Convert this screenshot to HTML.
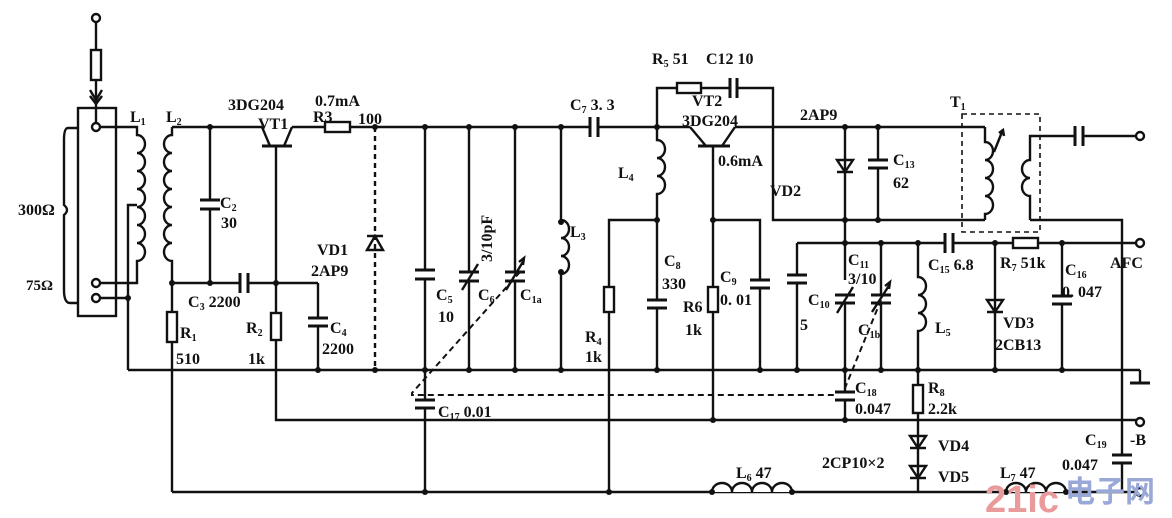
<!DOCTYPE html>
<html><head><meta charset="utf-8"><style>
html,body{margin:0;padding:0;background:#fff;}
svg{display:block;}
text{font-family:"Liberation Serif",serif;font-weight:bold;font-size:16px;fill:#111;}
.s{font-size:10px;}
</style></head><body>
<svg width="1172" height="518" viewBox="0 0 1172 518" xmlns="http://www.w3.org/2000/svg">
<g stroke="#111" stroke-width="2.4" fill="none">
<!-- antenna input -->
<circle cx="96" cy="18" r="4"/>
<line x1="96" y1="22" x2="96" y2="50"/>
<rect x="91" y="50" width="10" height="30"/>
<line x1="96" y1="80" x2="96" y2="123"/>
<path d="M90 90 L96 100 L102 90 M90 96 L96 104 L102 96"/>
<rect x="78" y="108" width="38" height="208"/>
<circle cx="96" cy="127" r="4"/>
<circle cx="96" cy="283" r="4"/>
<circle cx="96" cy="298" r="4"/>
<path d="M78 128 H68 Q64 128 64 140 V205 Q70 210 64 215 V290 Q64 303 70 303 H78"/>
<!-- L1 -->
<path d="M100 127 H137 V135 a8 9 0 0 1 0 18 a8 9 0 0 1 0 18 a8 9 0 0 1 0 18 a8 9 0 0 1 0 18 a8 9 0 0 1 0 18 a8 9 0 0 1 0 18 a8 9 0 0 1 0 18 V283 H100"/>
<path d="M137 205 H128 V370"/>
<line x1="100" y1="298" x2="128" y2="298"/>
<!-- L2 -->
<path d="M172 127 V135 a8 9 0 0 0 0 18 a8 9 0 0 0 0 18 a8 9 0 0 0 0 18 a8 9 0 0 0 0 18 a8 9 0 0 0 0 18 a8 9 0 0 0 0 18 a8 9 0 0 0 0 18 V283"/>
<!-- top rail -->
<line x1="172" y1="127" x2="262" y2="127"/>
<line x1="292" y1="127" x2="325" y2="127"/>
<rect x="325" y="122" width="25" height="10"/>
<line x1="350" y1="127" x2="590" y2="127"/>
<!-- VT1 -->
<line x1="262" y1="127" x2="270" y2="146"/>
<line x1="292" y1="127" x2="284" y2="146"/>
<line x1="262" y1="146" x2="292" y2="146" stroke-width="3"/>
<line x1="276" y1="146" x2="276" y2="313"/>
<!-- C2 -->
<line x1="210" y1="127" x2="210" y2="200"/>
<line x1="200" y1="200" x2="220" y2="200" stroke-width="3"/>
<line x1="200" y1="209" x2="220" y2="209" stroke-width="3"/>
<line x1="210" y1="209" x2="210" y2="283"/>
<!-- y283 line, C3 -->
<line x1="172" y1="283" x2="240" y2="283"/>
<line x1="240" y1="273" x2="240" y2="293" stroke-width="3"/>
<line x1="248" y1="273" x2="248" y2="293" stroke-width="3"/>
<line x1="248" y1="283" x2="318" y2="283"/>
<line x1="318" y1="283" x2="318" y2="318"/>
<line x1="308" y1="318" x2="328" y2="318" stroke-width="3"/>
<line x1="308" y1="326" x2="328" y2="326" stroke-width="3"/>
<line x1="318" y1="326" x2="318" y2="370"/>
<!-- R1 -->
<line x1="172" y1="283" x2="172" y2="312"/>
<rect x="167" y="312" width="10" height="30"/>
<line x1="172" y1="342" x2="172" y2="492"/>
<!-- R2 -->
<rect x="271" y="313" width="10" height="27"/>
<path d="M276 340 V420 H1136"/>
<!-- ground rail -->
<line x1="128" y1="370" x2="1140" y2="370"/>
<line x1="1140" y1="370" x2="1140" y2="383"/>
<line x1="1130" y1="383" x2="1150" y2="383" stroke-width="3"/>
<!-- bottom rail -->
<line x1="172" y1="492" x2="1136" y2="492"/>
<!-- VD1 -->
<line x1="375" y1="127" x2="375" y2="370" stroke-dasharray="5,4"/>
<path d="M367 250 L375 236 L383 250 Z"/>
<line x1="367" y1="236" x2="383" y2="236" stroke-width="2.5"/>
<!-- C5 -->
<line x1="425" y1="127" x2="425" y2="270"/>
<line x1="415" y1="270" x2="435" y2="270" stroke-width="3"/>
<line x1="415" y1="279" x2="435" y2="279" stroke-width="3"/>
<line x1="425" y1="279" x2="425" y2="400"/>
<line x1="415" y1="400" x2="435" y2="400" stroke-width="3"/>
<line x1="415" y1="408" x2="435" y2="408" stroke-width="3"/>
<line x1="425" y1="408" x2="425" y2="492"/>
<!-- C6 -->
<line x1="469" y1="127" x2="469" y2="272"/>
<line x1="459" y1="272" x2="479" y2="272" stroke-width="3"/>
<line x1="459" y1="281" x2="479" y2="281" stroke-width="3"/>
<line x1="469" y1="281" x2="469" y2="370"/>
<line x1="462" y1="290" x2="478" y2="264"/>
<!-- C1a -->
<line x1="515" y1="127" x2="515" y2="272"/>
<line x1="505" y1="272" x2="525" y2="272" stroke-width="3"/>
<line x1="505" y1="281" x2="525" y2="281" stroke-width="3"/>
<line x1="515" y1="281" x2="515" y2="370"/>
<path d="M506 290 L524 260 M519 262 L524 258 L523 265"/>
<!-- ganged dashed -->
<path d="M520 272 L412 393 L412 395 H835" stroke-dasharray="6,4" stroke-width="2"/>
<!-- L3 -->
<path d="M561 127 V220 a8 9 0 0 1 0 18 a8 9 0 0 1 0 18 a8 9 0 0 1 0 18 V370"/>
<!-- C7 -->
<line x1="590" y1="117" x2="590" y2="137" stroke-width="3"/>
<line x1="598" y1="117" x2="598" y2="137" stroke-width="3"/>
<line x1="598" y1="127" x2="690" y2="127"/>
<!-- L4 & R5/C12 loop -->
<path d="M657 127 V88 H677"/>
<rect x="677" y="83" width="24" height="10"/>
<line x1="701" y1="88" x2="730" y2="88"/>
<line x1="730" y1="78" x2="730" y2="98" stroke-width="3"/>
<line x1="737" y1="78" x2="737" y2="98" stroke-width="3"/>
<path d="M737 88 H773 V220 H985"/>
<path d="M657 127 V140 a8 9 0 0 1 0 18 a8 9 0 0 1 0 18 a8 9 0 0 1 0 18 V300"/>
<line x1="647" y1="300" x2="667" y2="300" stroke-width="3"/>
<line x1="647" y1="308" x2="667" y2="308" stroke-width="3"/>
<line x1="657" y1="308" x2="657" y2="370"/>
<path d="M657 220 H609 V287"/>
<rect x="604" y="287" width="10" height="25"/>
<line x1="609" y1="312" x2="609" y2="492"/>
<!-- VT2 -->
<line x1="690" y1="127" x2="706" y2="146"/>
<line x1="735" y1="127" x2="722" y2="146"/>
<line x1="698" y1="146" x2="730" y2="146" stroke-width="3"/>
<line x1="735" y1="127" x2="985" y2="127"/>
<path d="M713 146 V220 H760 V280"/>
<line x1="750" y1="280" x2="770" y2="280" stroke-width="3"/>
<line x1="750" y1="288" x2="770" y2="288" stroke-width="3"/>
<line x1="760" y1="288" x2="760" y2="370"/>
<line x1="713" y1="220" x2="713" y2="287"/>
<rect x="708" y="287" width="10" height="25"/>
<line x1="713" y1="312" x2="713" y2="420"/>
<!-- VD2 C13 -->
<line x1="845" y1="127" x2="845" y2="280"/>
<path d="M837 160 L853 160 L845 172 Z"/>
<line x1="837" y1="172" x2="853" y2="172" stroke-width="2.5"/>
<line x1="878" y1="127" x2="878" y2="160"/>
<line x1="868" y1="160" x2="888" y2="160" stroke-width="3"/>
<line x1="868" y1="168" x2="888" y2="168" stroke-width="3"/>
<line x1="878" y1="168" x2="878" y2="220"/>
<!-- T1 -->
<rect x="962" y="114" width="78" height="118" stroke-dasharray="5,4" stroke-width="1.6"/>
<path d="M985 127 V142 a8 9 0 0 1 0 18 a8 9 0 0 1 0 18 a8 9 0 0 1 0 18 a8 9 0 0 1 0 18 V220"/>
<path d="M1030 220 V196 a8 9 0 0 1 0 -18 a8 9 0 0 1 0 -18 V136 H1075"/>
<path d="M994 152 L1002 132 M999 133 L1003 130 L1004 136"/>
<path d="M1030 220 H1122 V455"/>
<line x1="1075" y1="126" x2="1075" y2="146" stroke-width="3"/>
<line x1="1083" y1="126" x2="1083" y2="146" stroke-width="3"/>
<line x1="1083" y1="136" x2="1136" y2="136"/>
<circle cx="1140" cy="136" r="4"/>
<line x1="1112" y1="455" x2="1132" y2="455" stroke-width="3"/>
<line x1="1112" y1="463" x2="1132" y2="463" stroke-width="3"/>
<line x1="1122" y1="463" x2="1122" y2="492"/>
<!-- y243 rail -->
<path d="M797 243 H945"/>
<line x1="945" y1="233" x2="945" y2="253" stroke-width="3"/>
<line x1="953" y1="233" x2="953" y2="253" stroke-width="3"/>
<line x1="953" y1="243" x2="1013" y2="243"/>
<rect x="1013" y="238" width="25" height="10"/>
<line x1="1038" y1="243" x2="1136" y2="243"/>
<circle cx="1140" cy="243" r="4"/>
<circle cx="1140" cy="422" r="4"/>
<circle cx="1140" cy="492" r="4"/>
<!-- C10 -->
<path d="M797 243 V275"/>
<line x1="787" y1="275" x2="807" y2="275" stroke-width="3"/>
<line x1="787" y1="283" x2="807" y2="283" stroke-width="3"/>
<line x1="797" y1="283" x2="797" y2="370"/>
<!-- C11 -->
<line x1="835" y1="295" x2="855" y2="295" stroke-width="3"/>
<line x1="835" y1="303" x2="855" y2="303" stroke-width="3"/>
<line x1="845" y1="303" x2="845" y2="392"/>
<line x1="837" y1="313" x2="853" y2="287"/>
<line x1="835" y1="392" x2="855" y2="392" stroke-width="3"/>
<line x1="835" y1="400" x2="855" y2="400" stroke-width="3"/>
<line x1="845" y1="400" x2="845" y2="420"/>
<!-- C1b -->
<line x1="881" y1="243" x2="881" y2="295"/>
<line x1="871" y1="295" x2="891" y2="295" stroke-width="3"/>
<line x1="871" y1="303" x2="891" y2="303" stroke-width="3"/>
<line x1="881" y1="303" x2="881" y2="370"/>
<path d="M872 312 L890 284 M885 286 L890 282 L889 289"/>
<line x1="881" y1="300" x2="845" y2="388" stroke-dasharray="6,4" stroke-width="2"/>
<!-- L5 -->
<path d="M918 243 V277 a8 9 0 0 1 0 18 a8 9 0 0 1 0 18 a8 9 0 0 1 0 18 V385"/>
<rect x="913" y="385" width="10" height="28"/>
<line x1="918" y1="413" x2="918" y2="492"/>
<path d="M910 436 L926 436 L918 448 Z"/>
<line x1="910" y1="448" x2="926" y2="448" stroke-width="2.5"/>
<path d="M910 466 L926 466 L918 478 Z"/>
<line x1="910" y1="478" x2="926" y2="478" stroke-width="2.5"/>
<!-- VD3 -->
<line x1="995" y1="243" x2="995" y2="370"/>
<path d="M987 300 L1003 300 L995 312 Z"/>
<line x1="987" y1="312" x2="1003" y2="312" stroke-width="2.5"/>
<!-- C16 -->
<line x1="1062" y1="243" x2="1062" y2="296"/>
<line x1="1052" y1="296" x2="1072" y2="296" stroke-width="3"/>
<line x1="1052" y1="304" x2="1072" y2="304" stroke-width="3"/>
<line x1="1062" y1="304" x2="1062" y2="370"/>
<!-- L6 L7 -->
<path d="M712 492 a10 9 0 0 1 20 0 a10 9 0 0 1 20 0 a10 9 0 0 1 20 0 a10 9 0 0 1 20 0" fill="#fff"/>
<path d="M1006 492 a10 9 0 0 1 20 0 a10 9 0 0 1 20 0 a10 9 0 0 1 20 0" fill="#fff"/>
</g>
<g fill="#111">
<circle cx="128" cy="298" r="3"/><circle cx="172" cy="283" r="3"/><circle cx="210" cy="127" r="3"/><circle cx="210" cy="283" r="3"/><circle cx="276" cy="283" r="3"/>
<circle cx="318" cy="370" r="3"/><circle cx="375" cy="127" r="3"/><circle cx="375" cy="370" r="3"/><circle cx="425" cy="127" r="3"/><circle cx="425" cy="370" r="3"/>
<circle cx="469" cy="127" r="3"/><circle cx="469" cy="370" r="3"/><circle cx="515" cy="127" r="3"/><circle cx="515" cy="370" r="3"/><circle cx="561" cy="127" r="3"/><circle cx="561" cy="370" r="3"/>
<circle cx="561" cy="222" r="3"/><circle cx="561" cy="272" r="3"/><circle cx="425" cy="492" r="3"/>
<circle cx="657" cy="127" r="3"/><circle cx="657" cy="220" r="3"/><circle cx="657" cy="370" r="3"/><circle cx="713" cy="220" r="3"/><circle cx="713" cy="420" r="3"/><circle cx="760" cy="370" r="3"/>
<circle cx="845" cy="127" r="3"/><circle cx="878" cy="127" r="3"/><circle cx="845" cy="220" r="3"/><circle cx="878" cy="220" r="3"/>
<circle cx="845" cy="243" r="3"/><circle cx="881" cy="243" r="3"/><circle cx="918" cy="243" r="3"/><circle cx="995" cy="243" r="3"/><circle cx="1062" cy="243" r="3"/>
<circle cx="797" cy="370" r="3"/><circle cx="845" cy="370" r="3"/><circle cx="881" cy="370" r="3"/><circle cx="918" cy="370" r="3"/><circle cx="995" cy="370" r="3"/><circle cx="1062" cy="370" r="3"/>
<circle cx="845" cy="420" r="3"/><circle cx="609" cy="492" r="3"/><circle cx="712" cy="492" r="3"/><circle cx="792" cy="492" r="3"/><circle cx="1006" cy="492" r="3"/><circle cx="1066" cy="492" r="3"/>
</g>
<text x="18" y="215">300Ω</text>
<text x="26" y="290" style="font-size:15px">75Ω</text>
<text x="130" y="122">L<tspan class="s" dy="3">1</tspan></text>
<text x="166" y="122">L<tspan class="s" dy="3">2</tspan></text>
<text x="228" y="110">3DG204</text>
<text x="258" y="129">VT1</text>
<text x="315" y="106">0.7mA</text>
<text x="313" y="122">R3</text>
<text x="358" y="124">100</text>
<text x="220" y="208">C<tspan class="s" dy="3">2</tspan></text>
<text x="221" y="228">30</text>
<text x="188" y="307">C<tspan class="s" dy="3">3</tspan><tspan dy="-3"> 2200</tspan></text>
<text x="180" y="338">R<tspan class="s" dy="3">1</tspan></text>
<text x="176" y="364">510</text>
<text x="246" y="333">R<tspan class="s" dy="3">2</tspan></text>
<text x="248" y="364">1k</text>
<text x="330" y="333">C<tspan class="s" dy="3">4</tspan></text>
<text x="322" y="354">2200</text>
<text x="317" y="255">VD1</text>
<text x="311" y="276">2AP9</text>
<text x="436" y="300">C<tspan class="s" dy="3">5</tspan></text>
<text x="438" y="322">10</text>
<text x="478" y="300">C<tspan class="s" dy="3">6</tspan></text>
<text x="520" y="300">C<tspan class="s" dy="3">1a</tspan></text>
<text transform="translate(492,262) rotate(-90)">3/10pF</text>
<text x="570" y="237">L<tspan class="s" dy="3">3</tspan></text>
<text x="585" y="342">R<tspan class="s" dy="3">4</tspan></text>
<text x="585" y="362">1k</text>
<text x="438" y="417">C<tspan class="s" dy="3">17</tspan><tspan dy="-3"> 0.01</tspan></text>
<text x="570" y="110">C<tspan class="s" dy="3">7</tspan><tspan dy="-3"> 3. 3</tspan></text>
<text x="652" y="64">R<tspan class="s" dy="3">5</tspan><tspan dy="-3"> 51</tspan></text>
<text x="706" y="64">C12 10</text>
<text x="692" y="106">VT2</text>
<text x="682" y="126">3DG204</text>
<text x="718" y="166">0.6mA</text>
<text x="618" y="178">L<tspan class="s" dy="3">4</tspan></text>
<text x="664" y="266">C<tspan class="s" dy="3">8</tspan></text>
<text x="662" y="289">330</text>
<text x="683" y="312">R6</text>
<text x="685" y="335">1k</text>
<text x="720" y="282">C<tspan class="s" dy="3">9</tspan></text>
<text x="720" y="305">0. 01</text>
<text x="800" y="120">2AP9</text>
<text x="770" y="196">VD2</text>
<text x="893" y="165">C<tspan class="s" dy="3">13</tspan></text>
<text x="893" y="188">62</text>
<text x="950" y="107">T<tspan class="s" dy="3">1</tspan></text>
<text x="848" y="265">C<tspan class="s" dy="3">11</tspan></text>
<text x="848" y="284">3/10</text>
<text x="808" y="305">C<tspan class="s" dy="3">10</tspan></text>
<text x="800" y="330">5</text>
<text x="858" y="335">C<tspan class="s" dy="3">1b</tspan></text>
<text x="928" y="270">C<tspan class="s" dy="3">15</tspan><tspan dy="-3"> 6.8</tspan></text>
<text x="935" y="333">L<tspan class="s" dy="3">5</tspan></text>
<text x="1000" y="268">R<tspan class="s" dy="3">7</tspan><tspan dy="-3"> 51k</tspan></text>
<text x="1110" y="268">AFC</text>
<text x="1065" y="275">C<tspan class="s" dy="3">16</tspan></text>
<text x="1062" y="297">0. 047</text>
<text x="1003" y="328">VD3</text>
<text x="995" y="350">2CB13</text>
<text x="855" y="393">C<tspan class="s" dy="3">18</tspan></text>
<text x="855" y="414">0.047</text>
<text x="928" y="393">R<tspan class="s" dy="3">8</tspan></text>
<text x="928" y="414">2.2k</text>
<text x="938" y="451">VD4</text>
<text x="822" y="468">2CP10×2</text>
<text x="938" y="482">VD5</text>
<text x="736" y="478">L<tspan class="s" dy="3">6</tspan><tspan dy="-3"> 47</tspan></text>
<text x="1000" y="478">L<tspan class="s" dy="3">7</tspan><tspan dy="-3"> 47</tspan></text>
<text x="1085" y="445">C<tspan class="s" dy="3">19</tspan></text>
<text x="1062" y="470">0.047</text>
<text x="1130" y="445">-B</text>
<text x="985" y="512" style="font-family:'Liberation Sans',sans-serif;font-size:38px;fill:#e99a9a;font-weight:bold">21ic</text>
<text x="1065" y="502" style="font-family:'Liberation Sans','Noto Sans CJK SC',sans-serif;font-size:30px;fill:#9aa8d8">电子网</text>
</svg>
</body></html>
